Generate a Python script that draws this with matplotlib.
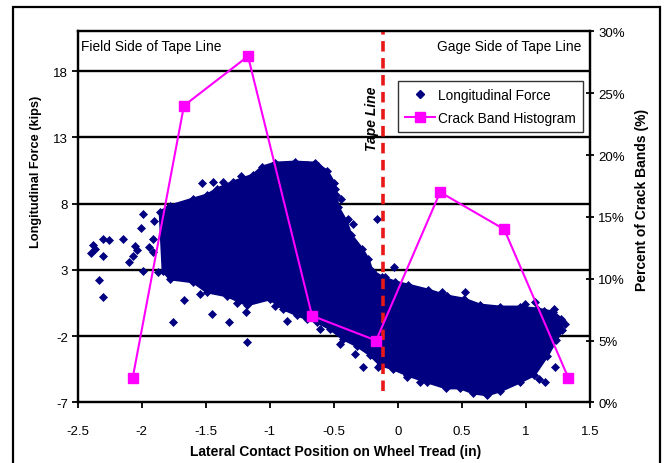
import matplotlib
matplotlib.use("Agg")
import matplotlib.pyplot as plt
from matplotlib.lines import Line2D
from matplotlib.patches import Rectangle, Polygon

plt.rcParams["font.family"] = ["Liberation Sans", "DejaVu Sans"]
plt.rcParams["axes.unicode_minus"] = False

# Crack band histogram (right axis, percent of crack bands)
band_pos = [-2.07, -1.67, -1.17, -0.67, -0.17, 0.33, 0.83, 1.33]
band_pct = [2, 24, 28, 7, 5, 17, 14, 2]

# Outline of the dense region of longitudinal force measurements
cloud_x = [-1.857, -1.779, -1.599, -1.490, -1.412, -1.287, -1.130, -1.060, -0.959,
           -0.802, -0.646, -0.552, -0.498, -0.482, -0.466, -0.404, -0.365, -0.279,
           -0.232, -0.201, -0.123, -0.021, 0.080, 0.237, 0.385, 0.518, 0.643, 0.799,
           0.955, 1.088, 1.213, 1.276, 1.283, 1.237, 1.166, 1.065, 0.955, 0.799,
           0.698, 0.588, 0.487, 0.377, 0.229, 0.073, -0.037, -0.138, -0.216, -0.318,
           -0.427, -0.529, -0.630, -0.709, -0.787, -0.896, -0.998, -1.177, -1.334,
           -1.490, -1.599, -1.779, -1.834]
cloud_y = [7.37, 7.83, 8.36, 8.66, 9.11, 9.64, 10.17, 10.77, 11.07,
           11.15, 11.07, 10.47, 9.56, 8.66, 7.75, 6.69, 5.64, 4.58,
           3.82, 2.92, 2.46, 2.09, 1.86, 1.48, 1.03, 0.80, 0.35, 0.20,
           0.20, 0.05, -0.18, -0.71, -1.54, -2.29, -3.50, -4.94, -5.47, -6.15,
           -6.45, -6.30, -5.92, -5.92, -5.47, -4.94, -4.48, -4.18, -3.43, -2.75,
           -2.22, -1.46, -0.94, -0.71, -0.41, 0.05, 0.80, 0.35, 1.03,
           1.33, 2.09, 2.31, 2.92]

# Individual measurements outside the dense region
pts_x = [-1.992, -2.008, -1.904, -2.305, -2.253, -2.144, -2.378, -2.365, -2.396,
         -2.300, -2.052, -2.039, -2.066, -2.097, -1.943, -1.914, -1.914, -1.992,
         -1.875, -2.331, -2.305,
         -1.753, -1.670, -1.545, -1.453, -1.316, -1.258, -1.185, -1.181, -0.867,
         -0.959, -0.607, -0.451, -0.334, -0.269, -0.152,
         -1.227, -1.362, -1.441, -1.531, -0.623, -0.711, -0.490, -0.388, -0.349,
         -0.164, -0.443,
         -0.034, -0.099, 0.344, 0.526, 0.995, 1.073, 1.138, 1.216, 1.281, 1.307,
         1.229, 1.151, 1.098, 0.174, 0.070]
pts_y = [7.22, 6.14, 6.72, 5.33, 5.26, 5.33, 4.88, 4.58, 4.28,
         4.03, 4.78, 4.53, 4.03, 3.57, 4.71, 5.33, 4.33, 2.94,
         2.86, 2.26, 0.98,
         -0.96, 0.75, 1.18, -0.33, -0.96, 0.50, -0.16, -2.48, -0.84,
         0.30, -1.46, -2.60, -3.35, -4.36, -4.36,
         10.07, 9.66, 9.66, 9.56, 10.87, 10.92, 9.11, 6.84, 6.47,
         6.84, 8.36,
         3.20, 2.44, 1.31, 1.35, 0.42, 0.55, -0.08, 0.05, -0.84, -1.09,
         -4.36, -5.49, -5.24, -5.49, -5.07]

tape_line = -0.12

x_ticks = [-2.5, -2, -1.5, -1, -0.5, 0, 0.5, 1, 1.5]
x_labels = ["-2.5", "-2", "-1.5", "-1", "-0.5", "0", "0.5", "1", "1.5"]
force_ticks = [-7, -2, 3, 8, 13, 18]
pct_ticks = [0, 5, 10, 15, 20, 25, 30]
pct_labels = ["0%", "5%", "10%", "15%", "20%", "25%", "30%"]

navy = "#000080"
magenta = "#FF00FF"

fig = plt.figure(figsize=(6.65, 4.64), dpi=100)
fig.patch.set_facecolor("white")
ax = fig.add_axes([0.1168, 0.1308, 0.7704, 0.7992])
ax.set_xlim(-2.5, 1.5)
ax.set_ylim(-7, 21)

# horizontal gridlines
for yv in force_ticks[1:]:
    ax.axhline(yv, color="black", lw=1.7, zorder=1)

# dense force cloud plus its edge points
ax.add_patch(Polygon(list(zip(cloud_x, cloud_y)), closed=True, facecolor=navy,
                     edgecolor=navy, lw=2.0, joinstyle="round", zorder=2))
ax.plot(cloud_x, cloud_y, ls="none", marker="D", ms=3.6, color=navy,
        mec=navy, mew=0.5, zorder=2)
ax.plot(pts_x, pts_y, ls="none", marker="D", ms=3.6, color=navy,
        mec=navy, mew=0.5, zorder=2)

# tape line
ax.axvline(tape_line, ymin=0.03, ymax=1.0, color="#E81818", lw=2.6,
           ls=(0, (2.9, 1.8)), zorder=3)
ax.text(-0.20, 14.5, "Tape Line", rotation=90, ha="center", va="center",
        fontsize=10, fontweight="bold", fontstyle="italic", zorder=4)

ax.text(0.006, 0.962, "Field Side of Tape Line", transform=ax.transAxes,
        ha="left", va="center", fontsize=9.9)
ax.text(0.982, 0.962, "Gage Side of Tape Line", transform=ax.transAxes,
        ha="right", va="center", fontsize=9.9)

ax.set_xticks(x_ticks)
ax.set_xticklabels(x_labels)
ax.set_yticks(force_ticks)
ax.tick_params(axis="both", labelsize=9.5, width=1.3, length=4, color="black")
ax.tick_params(axis="x", direction="out", pad=12)
ax.tick_params(axis="y", direction="out", pad=3)
for sp in ax.spines.values():
    sp.set_linewidth(1.6)
    sp.set_color("black")

ax2 = ax.twinx()
ax2.set_ylim(0, 30)
ax2.set_yticks(pct_ticks)
ax2.set_yticklabels(pct_labels)
ax2.tick_params(axis="y", labelsize=9.5, width=1.3, length=6, direction="inout", pad=3)
for sp in ax2.spines.values():
    sp.set_linewidth(1.6)
ax2.plot(band_pos, band_pct, color=magenta, lw=1.5, marker="s", ms=7,
         mfc=magenta, mec=magenta, zorder=5)

fig.text(0.054, 0.629, "Longitudinal Force (kips)", rotation=90, ha="center",
         va="center", fontsize=9.2, fontweight="bold")
fig.text(0.965, 0.569, "Percent of Crack Bands (%)", rotation=90, ha="center",
         va="center", fontsize=10, fontweight="bold")
fig.text(0.504, 0.026, "Lateral Contact Position on Wheel Tread (in)",
         ha="center", va="center", fontsize=10, fontweight="bold")

handles = [
    Line2D([], [], ls="none", marker="D", ms=3.6, color=navy),
    Line2D([], [], color=magenta, lw=1.5, marker="s", ms=7),
]
leg = ax2.legend(handles, ["Longitudinal Force", "Crack Band Histogram"],
                 loc="upper left", bbox_to_anchor=(0.625, 0.866), fontsize=9.8,
                 frameon=True, fancybox=False, edgecolor="black",
                 handlelength=2.2, handletextpad=0.25, borderpad=0.5,
                 labelspacing=0.65, borderaxespad=0)
leg.get_frame().set_linewidth(1.0)
leg.set_zorder(10)

# outer chart border
fig.patches.append(Rectangle((13 / 665, -0.05), (660 - 13) / 665, 1.05 - 8 / 464,
                             transform=fig.transFigure, fill=False,
                             edgecolor="black", lw=1.6))

fig.savefig("out.png", dpi=100)
